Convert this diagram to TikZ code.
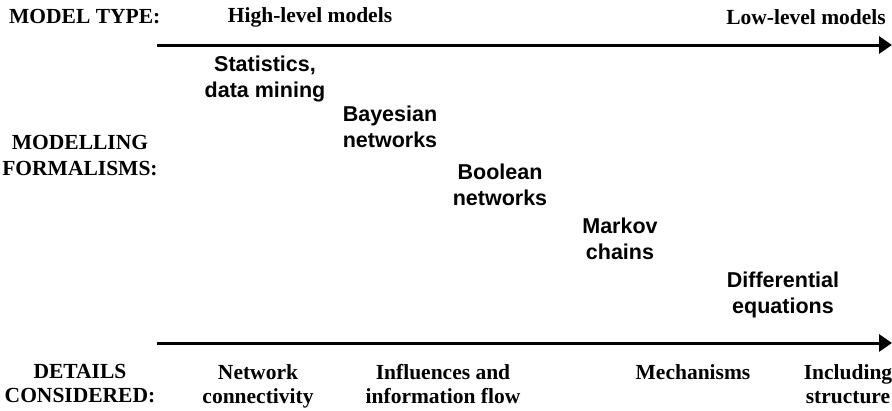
\documentclass[tikz,border=0pt]{standalone}
\usepackage{fontspec}
\setmainfont{Liberation Serif}
\setsansfont{Liberation Sans}
\usetikzlibrary{arrows.meta}
\begin{document}
\begin{tikzpicture}[x=1pt,y=-1pt,
  heading/.style={font=\fontsize{21.5}{26}\selectfont\bfseries\rmfamily, align=center, inner sep=0pt},
  formalism/.style={font=\fontsize{21.5}{26}\selectfont\bfseries\sffamily, align=center, inner sep=0pt},
  detail/.style={font=\fontsize{21.5}{24}\selectfont\bfseries\rmfamily, align=center, inner sep=0pt},
  axis/.style={line width=3pt, -{Triangle[length=13pt,width=17pt]}}]
\useasboundingbox (0,0) rectangle (892,410);

% row labels
\node[heading, anchor=west] (mt) at (9,17) {MODEL TYPE:};
\node[heading] (mf) at (80,156) {MODELLING\\FORMALISMS:};
\node[detail] (dc) at (80,384) {DETAILS\\CONSIDERED:};

% model type axis
\node[heading] (high) at (310,17) {High-level models};
\node[heading, anchor=east] (low) at (886,17) {Low-level models};
\coordinate (ta) at (157,45);
\coordinate (tb) at (892,45);
\draw[axis] (ta) -- (tb);

% modelling formalisms, from abstract to detailed
\node[formalism] (stat) at (265,79) {Statistics,\\data mining};
\node[formalism] (bayes) at (390,127) {Bayesian\\networks};
\node[formalism] (bool) at (500,185) {Boolean\\networks};
\node[formalism] (markov) at (620,239) {Markov\\chains};
\node[formalism] (ode) at (783,295) {Differential\\equations};

% details axis
\coordinate (ba) at (157,343);
\coordinate (bb) at (892,343);
\draw[axis] (ba) -- (bb);

\node[detail] (conn) at (258,386) {Network\\connectivity};
\node[detail] (infl) at (443,384) {Influences and\\information flow};
\node[detail] (mech) at (693,372) {Mechanisms};
\node[detail] (struct) at (848,384) {Including\\structure};
\end{tikzpicture}
\end{document}
